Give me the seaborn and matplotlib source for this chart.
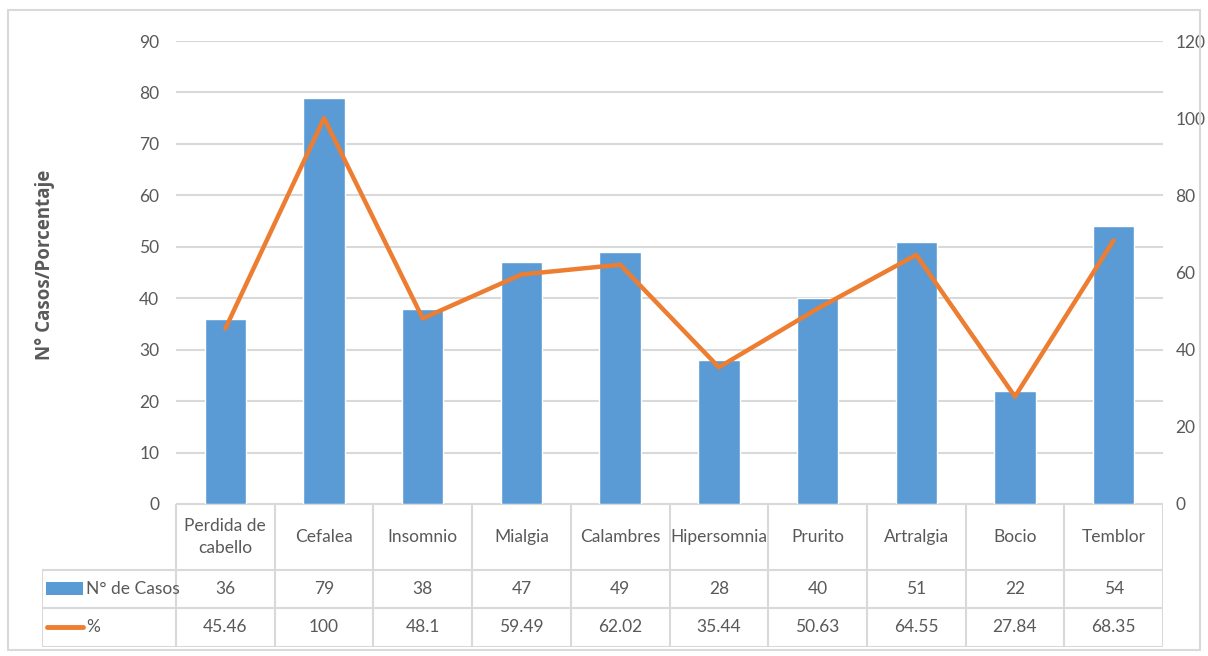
import numpy as np
import pandas as pd
import matplotlib
matplotlib.use("Agg")
import matplotlib.pyplot as plt
import seaborn as sns

# data
categorias = ["Perdida de\ncabello", "Cefalea", "Insomnio", "Mialgia", "Calambres",
              "Hipersomnia", "Prurito", "Artralgia", "Bocio", "Temblor"]
casos = [36, 79, 38, 47, 49, 28, 40, 51, 22, 54]
porcentaje = [45.46, 100, 48.1, 59.49, 62.02, 35.44, 50.63, 64.55, 27.84, 68.35]
porcentaje_txt = ["45.46", "100", "48.1", "59.49", "62.02", "35.44", "50.63", "64.55", "27.84", "68.35"]

sns.set_theme(style="white")
plt.rcParams['font.family'] = ['Lato', 'DejaVu Sans']

azul = "#5B9BD5"
naranja = "#ED7D31"
gris = "#595959"
linea = "#D9D9D9"
fs = 12.5

W, H = 1208, 656
fig = plt.figure(figsize=(W / 100, H / 100), dpi=100)

# outer border
fig.patches.append(plt.Rectangle((8 / W, 6 / H), 1192 / W, 640 / H, transform=fig.transFigure,
                                 fill=False, edgecolor=linea, lw=1.5))

x0, x1, y0, y1 = 176, 1163, 41, 504
ax = fig.add_axes([x0 / W, 1 - y1 / H, (x1 - x0) / W, (y1 - y0) / H])

df = pd.DataFrame({"cat": range(len(casos)), "casos": casos, "pct": porcentaje})
sns.barplot(data=df, x="cat", y="casos", color=azul, width=0.42, saturation=1, ax=ax)
ax.set_ylim(0, 90)
ax.set_yticks(range(0, 91, 10))
ax.set_xlim(-0.5, len(casos) - 0.5)
ax.yaxis.grid(True, color=linea, lw=1.5)
ax.set_axisbelow(True)
for s in ax.spines.values():
    s.set_visible(False)
ax.set_xticks([])
ax.set_xlabel("")
ax.set_ylabel("")
ax.tick_params(axis="y", colors=gris, labelsize=fs, length=0, pad=12)

ax2 = ax.twinx()
sns.lineplot(data=df, x="cat", y="pct", color=naranja, lw=3.2, ax=ax2)
ax2.set_ylim(0, 120)
ax2.set_yticks(range(0, 121, 20))
for s in ax2.spines.values():
    s.set_visible(False)
ax2.set_ylabel("")
ax2.set_xlabel("")
ax2.tick_params(axis="y", colors=gris, labelsize=fs, length=0, pad=9)
ax2.grid(False)

fig.text(45 / W, 1 - 265 / H, "N° Casos/Porcentaje", rotation=90, color=gris,
         fontsize=13.5, fontweight="bold", ha="center", va="center",
         family=["Open Sans", "DejaVu Sans"])

# data table
tx0, ty1 = 42, 647
cw = (x1 - x0) / len(casos)
tab = fig.add_axes([tx0 / W, 1 - ty1 / H, (x1 - tx0) / W, (ty1 - y1) / H])
tab.set_xlim(-0.5 - (x0 - tx0) / cw, len(casos) - 0.5)
tab.set_ylim(ty1, y1)
tab.axis("off")
rows = [504, 570, 608, 647]
n = len(casos)
lx = -0.5 - (x0 - tx0) / cw
tab.plot([-0.5, n - 0.5], [rows[0]] * 2, color=linea, lw=1.5)
for r in rows[1:]:
    tab.plot([lx, n - 0.5], [r] * 2, color=linea, lw=1.5)
for i in range(n + 1):
    tab.plot([i - 0.5] * 2, [rows[0], rows[3]], color=linea, lw=1.5)
tab.plot([lx] * 2, [rows[1], rows[3]], color=linea, lw=1.5)

for i in range(n):
    tab.text(i, (rows[0] + rows[1]) / 2, categorias[i], ha="center", va="center",
             color=gris, fontsize=fs, linespacing=1.45)
    tab.text(i, (rows[1] + rows[2]) / 2, str(casos[i]), ha="center", va="center",
             color=gris, fontsize=fs)
    tab.text(i, (rows[2] + rows[3]) / 2, porcentaje_txt[i], ha="center", va="center",
             color=gris, fontsize=fs)

tab.add_patch(plt.Rectangle((lx + 4 / cw, 582), 37 / cw, 13, color=azul, lw=0))
tab.text(lx + 44 / cw, (rows[1] + rows[2]) / 2, "N° de Casos", ha="left", va="center",
         color=gris, fontsize=fs)
tab.plot([lx + 5 / cw, lx + 41 / cw], [627, 627], color=naranja, lw=3.5, solid_capstyle="round")
tab.text(lx + 44 / cw, (rows[2] + rows[3]) / 2, "%", ha="left", va="center",
         color=gris, fontsize=fs)

fig.savefig("out.png", dpi=100)
